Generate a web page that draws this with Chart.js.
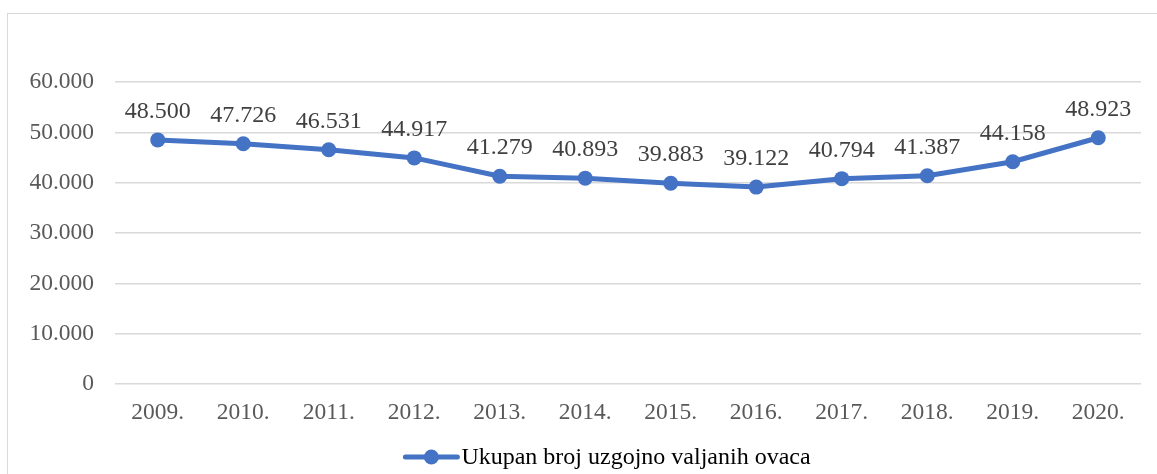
<!DOCTYPE html>
<html>
<head>
<meta charset="utf-8">
<script src="https://cdn.jsdelivr.net/npm/chart.js@4.4.1/dist/chart.umd.min.js"></script>
<style>
  html, body { margin: 0; padding: 0; background: #fff; overflow: hidden; }
  #wrap { position: relative; width: 1157px; height: 474px; }
  #frame { position: absolute; left: 7px; top: 13px; width: 1200px; height: 500px; border: 1px solid #d9d9d9; box-sizing: border-box; }
  canvas { position: absolute; left: 0; top: 0; }
</style>
</head>
<body>
<div id="wrap">
  <div id="frame"></div>
  <canvas id="chart" width="1157" height="474"></canvas>
</div>
<script>
const years = ["2009.", "2010.", "2011.", "2012.", "2013.", "2014.", "2015.", "2016.", "2017.", "2018.", "2019.", "2020."];
const sheep = [48500, 47726, 46531, 44917, 41279, 40893, 39883, 39122, 40794, 41387, 44158, 48923];
const seriesLabel = "Ukupan broj uzgojno valjanih ovaca";

const FONT = "'Liberation Serif', 'Times New Roman', serif";
const BLUE = "#4472C4";

// 48500 -> "48.500"
function fmt(v) {
    return String(Math.round(v)).replace(/\B(?=(\d{3})+(?!\d))/g, ".");
}

// value labels above points + excel-like legend at the bottom
const extras = {
    id: "extras",
    afterDatasetsDraw(chart) {
        const ctx = chart.ctx;
        const meta = chart.getDatasetMeta(0);
        ctx.save();
        ctx.font = "24px " + FONT;
        ctx.fillStyle = "#404040";
        ctx.textAlign = "center";
        ctx.textBaseline = "alphabetic";
        meta.data.forEach((pt, i) => {
            ctx.fillText(fmt(sheep[i]), pt.x, pt.y - 22);
        });

        // legend
        ctx.font = "24px " + FONT;
        const tw = ctx.measureText(seriesLabel).width;
        const mw = 56, gap = 2;
        const total = mw + gap + tw;
        const x0 = 607 - total / 2;
        const y = 457;
        ctx.strokeStyle = BLUE;
        ctx.lineWidth = 5;
        ctx.lineCap = "round";
        ctx.beginPath();
        ctx.moveTo(x0 + 2, y);
        ctx.lineTo(x0 + mw - 2, y);
        ctx.stroke();
        ctx.fillStyle = BLUE;
        ctx.beginPath();
        ctx.arc(x0 + mw / 2, y, 7.5, 0, Math.PI * 2);
        ctx.fill();
        ctx.fillStyle = "#000";
        ctx.textAlign = "left";
        ctx.textBaseline = "middle";
        ctx.fillText(seriesLabel, x0 + mw + gap, y + 1);
        ctx.restore();
    }
};

new Chart(document.getElementById("chart"), {
    type: "line",
    data: {
        labels: years,
        datasets: [{
            label: seriesLabel,
            data: sheep,
            borderColor: BLUE,
            backgroundColor: BLUE,
            borderWidth: 5,
            pointRadius: 7.5,
            pointHoverRadius: 7.5,
            pointBorderWidth: 0,
            tension: 0
        }]
    },
    options: {
        responsive: false,
        animation: false,
        layout: { padding: { left: 0, right: 16, top: 82, bottom: 50 } },
        plugins: {
            legend: { display: false },
            tooltip: { enabled: false }
        },
        scales: {
            x: {
                offset: true,
                grid: { display: false, drawTicks: false },
                border: { display: false },
                ticks: {
                    color: "#595959",
                    font: { family: FONT, size: 23.5 },
                    padding: 15,
                    maxRotation: 0,
                    autoSkip: false
                },
                afterFit(scale) { scale.height = 40; }
            },
            y: {
                min: 0,
                max: 60000,
                grid: { color: "#d9d9d9", lineWidth: 1.5, drawTicks: false },
                border: { display: false },
                ticks: {
                    stepSize: 10000,
                    color: "#595959",
                    font: { family: FONT, size: 23.5 },
                    padding: 21,
                    callback: v => fmt(v)
                },
                afterFit(scale) { scale.width = 115; }
            }
        }
    },
    plugins: [extras]
});
</script>
</body>
</html>
